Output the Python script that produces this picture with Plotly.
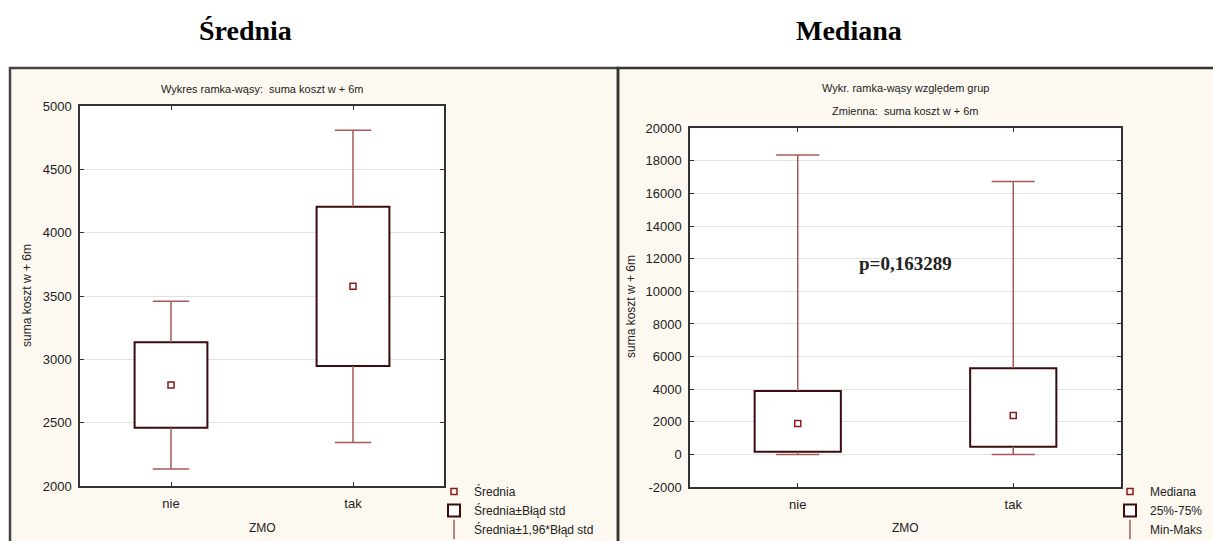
import plotly.graph_objects as go

W, H = 1213, 541

CATEGORIES = ["nie", "tak"]

# Left panel: mean, box = mean ± SE, whiskers = mean ± 1.96*SE
MEAN = [2797, 3576]
SE = [338, 629]
LEFT_TICKS = [2000, 2500, 3000, 3500, 4000, 4500, 5000]

# Right panel: median, box = quartiles, whiskers = min–max
MEDIAN = [1900, 2390]
Q1 = [160, 465]
Q3 = [3895, 5285]
MIN = [0, 0]
MAX = [18370, 16740]
RIGHT_TICKS = [-2000, 0, 2000, 4000, 6000, 8000, 10000, 12000, 14000, 16000, 18000, 20000]

P_TEXT = "p=0,163289"

SANS = "Arial, Liberation Sans, sans-serif"
SERIF = "Times New Roman, Liberation Serif, serif"
TXT = "#222222"
WHISK = "#a65a5a"
BOXLINE = "#3a0c0c"
MARK = "#8b1a1a"
CREAM = "#fdf9f0"

BOX_WIDTH = 0.4
CAP_HALF = 0.1

pos = list(range(len(CATEGORIES)))


def px(x):
    return x / W


def py(y):
    return 1 - y / H


fig = go.Figure()


def add_panel(xa, ya, leg, center, lo, hi, box_lo, box_hi, names):
    # whisker stems, drawn outside the box only
    sx, sy = [], []
    for c, l, h, bl, bh in zip(pos, lo, hi, box_lo, box_hi):
        sx += [c, c, None, c, c, None]
        sy += [bh, h, None, l, bl, None]
    # whisker caps
    for c, l, h in zip(pos, lo, hi):
        sx += [c - CAP_HALF, c + CAP_HALF, None, c - CAP_HALF, c + CAP_HALF, None]
        sy += [h, h, None, l, l, None]
    fig.add_trace(go.Scatter(
        x=sx, y=sy, mode="lines", xaxis=xa, yaxis=ya,
        line=dict(color=WHISK, width=1.5),
        showlegend=False, hoverinfo="skip"))
    # box
    fig.add_trace(go.Bar(
        x=pos, base=box_lo, y=[b - a for a, b in zip(box_lo, box_hi)],
        width=BOX_WIDTH, xaxis=xa, yaxis=ya,
        marker=dict(color="white", line=dict(color=BOXLINE, width=2)),
        name=names[1], legend=leg, legendrank=2, hoverinfo="skip"))
    # central point
    fig.add_trace(go.Scatter(
        x=pos, y=center, mode="markers", xaxis=xa, yaxis=ya,
        marker=dict(symbol="square-open", size=6, color=MARK,
                    line=dict(color=MARK, width=1.5)),
        name=names[0], legend=leg, legendrank=1, hoverinfo="skip"))
    # legend key for the whiskers
    fig.add_trace(go.Scatter(
        x=[None], y=[None], mode="markers", xaxis=xa, yaxis=ya,
        marker=dict(symbol="line-ns-open", size=14, color=WHISK,
                    line=dict(color=WHISK, width=1.5)),
        name=names[2], legend=leg, legendrank=3, hoverinfo="skip"))


add_panel("x", "y", "legend", MEAN,
          [m - 1.96 * s for m, s in zip(MEAN, SE)],
          [m + 1.96 * s for m, s in zip(MEAN, SE)],
          [m - s for m, s in zip(MEAN, SE)],
          [m + s for m, s in zip(MEAN, SE)],
          ["Średnia", "Średnia±Błąd std", "Średnia±1,96*Błąd std"])

add_panel("x2", "y2", "legend2", MEDIAN, MIN, MAX, Q1, Q3,
          ["Mediana", "25%-75%", "Min-Maks"])

axis_common = dict(
    showline=True, linecolor="#333333", linewidth=1.5, mirror="ticks",
    ticks="inside", ticklen=4, tickcolor="#333333", automargin=False,
    tickfont=dict(family=SANS, size=13, color=TXT), zeroline=False,
)

fig.update_layout(
    width=W, height=H, autosize=False,
    margin=dict(l=0, r=0, t=0, b=0, autoexpand=False),
    paper_bgcolor=CREAM, plot_bgcolor="white",
    barmode="overlay", showlegend=True,
    xaxis=dict(domain=[px(80), px(444)], range=[-0.5, 1.5],
               tickvals=pos, ticktext=CATEGORIES, showgrid=False,
               anchor="y", ticklabelstandoff=5, **axis_common),
    yaxis=dict(domain=[py(486), py(106)], range=[2000, 5000],
               tickvals=LEFT_TICKS, ticktext=[str(v) for v in LEFT_TICKS],
               showgrid=True, gridcolor="#e2e2e2", gridwidth=1,
               anchor="x", ticklabelstandoff=4, **axis_common),
    xaxis2=dict(domain=[px(690), px(1121)], range=[-0.5, 1.5],
                tickvals=pos, ticktext=CATEGORIES, showgrid=False,
                anchor="y2", ticklabelstandoff=5, **axis_common),
    yaxis2=dict(domain=[py(487), py(128.3)], range=[-2000, 20000],
                tickvals=RIGHT_TICKS, ticktext=[str(v) for v in RIGHT_TICKS],
                showgrid=True, gridcolor="#e2e2e2", gridwidth=1,
                anchor="x2", ticklabelstandoff=4, **axis_common),
    legend=dict(x=px(434), y=py(477), xanchor="left", yanchor="top",
                bgcolor="rgba(0,0,0,0)", tracegroupgap=0,
                font=dict(family=SANS, size=12, color=TXT)),
    legend2=dict(x=px(1110), y=py(477), xanchor="left", yanchor="top",
                 bgcolor="rgba(0,0,0,0)", tracegroupgap=0,
                 font=dict(family=SANS, size=12, color=TXT)),
)

# white surround above and left of the panels
fig.add_shape(type="rect", xref="paper", yref="paper", layer="below",
              x0=0, x1=1, y0=py(68), y1=1, fillcolor="white", line_width=0)
fig.add_shape(type="rect", xref="paper", yref="paper", layer="below",
              x0=0, x1=px(10), y0=0, y1=py(68), fillcolor="white", line_width=0)
# panel frames
fig.add_shape(type="rect", xref="paper", yref="paper", layer="below",
              x0=px(10), x1=px(618), y0=-0.2, y1=py(68),
              fillcolor="rgba(0,0,0,0)", line=dict(color="#444444", width=2.5))
fig.add_shape(type="rect", xref="paper", yref="paper", layer="below",
              x0=px(618), x1=1.05, y0=-0.2, y1=py(68),
              fillcolor="rgba(0,0,0,0)", line=dict(color="#333333", width=2.5))

ann = []


def label(text, x, y, size, family=SANS, color=TXT, weight="normal", angle=0):
    ann.append(dict(text=text, x=px(x), y=py(y), xref="paper", yref="paper",
                    xanchor="center", yanchor="middle", textangle=angle,
                    showarrow=False,
                    font=dict(family=family, size=size, color=color, weight=weight)))


# section headings
label("Średnia", 245, 30, 28, SERIF, "black", "bold")
label("Mediana", 849, 30, 28, SERIF, "black", "bold")
# chart titles
label("Wykres ramka-wąsy:\u00a0 suma koszt w + 6m", 262, 89, 11)
label("Wykr. ramka-wąsy względem grup", 905, 88, 11)
label("Zmienna:\u00a0 suma koszt w + 6m", 905, 111, 11)
# axis titles
label("suma koszt w + 6m", 27, 296, 12, angle=-90)
label("suma koszt w + 6m", 631, 307, 12, angle=-90)
label("ZMO", 262, 528, 12)
label("ZMO", 905, 528, 12)

# test result
ann.append(dict(text=P_TEXT, x=0.5, y=11700, xref="x2", yref="y2", showarrow=False,
                xanchor="center", yanchor="middle",
                font=dict(family=SERIF, size=19, color="#222222", weight="bold")))

fig.update_layout(annotations=ann)

fig.write_html("out.html")
